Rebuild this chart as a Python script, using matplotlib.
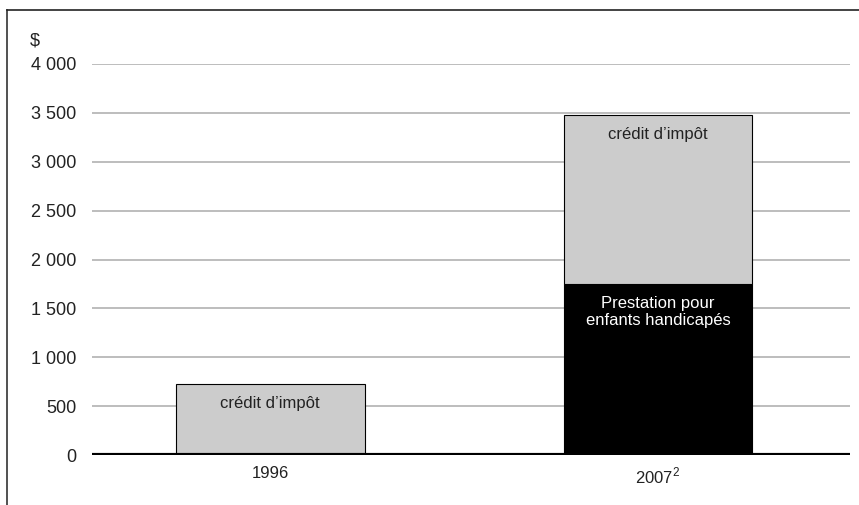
import matplotlib.pyplot as plt
from matplotlib.lines import Line2D

plt.rcParams['font.family'] = ['Liberation Sans', 'DejaVu Sans']

# montants en dollars
annees = ['1996', '2007$^{\\mathregular{2}}$']
credit_impot = [725, 1725]
prestation = [0, 1750]
yticks = [0, 500, 1000, 1500, 2000, 2500, 3000, 3500, 4000]
ytick_labels = ['0', '500', '1 000', '1 500', '2 000', '2 500', '3 000', '3 500', '4 000']

W, H = 859, 505
fig = plt.figure(figsize=(W / 100, H / 100), dpi=100)
ax = fig.add_axes([92 / W, 1 - 455 / H, (850 - 92) / W, (455 - 64) / H])

x = list(range(len(annees)))
largeur = 0.487

ax.bar(x, prestation, width=largeur, color='black', edgecolor='black', linewidth=0.8, zorder=3)
ax.bar(x, credit_impot, width=largeur, bottom=prestation, color='#cccccc',
       edgecolor='black', linewidth=0.8, zorder=3)

# étiquettes dans les barres
for i in x:
    haut = prestation[i] + credit_impot[i]
    ax.text(i, haut - 200, 'crédit d\u2019impôt', ha='center', va='center', fontsize=12,
            color='#222222', zorder=4)
    if prestation[i] > 0:
        ax.text(i, prestation[i] - 285, 'Prestation pour\nenfants handicapés', ha='center',
                va='center', fontsize=12, color='white', linespacing=1.15, zorder=4)

ax.set_xlim(-0.459, 1.495)
ax.set_ylim(0, 4000)
ax.set_yticks(yticks)
ax.set_yticklabels(ytick_labels, fontsize=13, color='#222222')
ax.set_xticks(x)
ax.set_xticklabels(annees, fontsize=12, color='#222222')
ax.tick_params(axis='y', length=0, pad=11)
ax.tick_params(axis='x', length=0, pad=8)

ax.grid(axis='y', color='#b8b8b8', linewidth=1.3, zorder=0)
for s in ax.spines.values():
    s.set_visible(False)
ax.axhline(0, color='black', linewidth=3, zorder=5)

fig.text(30 / W, 1 - 41 / H, '$', fontsize=13, color='#222222', va='center', ha='left')

# cadre gauche et haut
fig.add_artist(Line2D([7 / W, 7 / W], [0, 1 - 10 / H], transform=fig.transFigure,
                      color='#333333', linewidth=1.2))
fig.add_artist(Line2D([7 / W, 1], [1 - 10 / H, 1 - 10 / H], transform=fig.transFigure,
                      color='#222222', linewidth=1.2))

fig.savefig('out.png', dpi=100)
